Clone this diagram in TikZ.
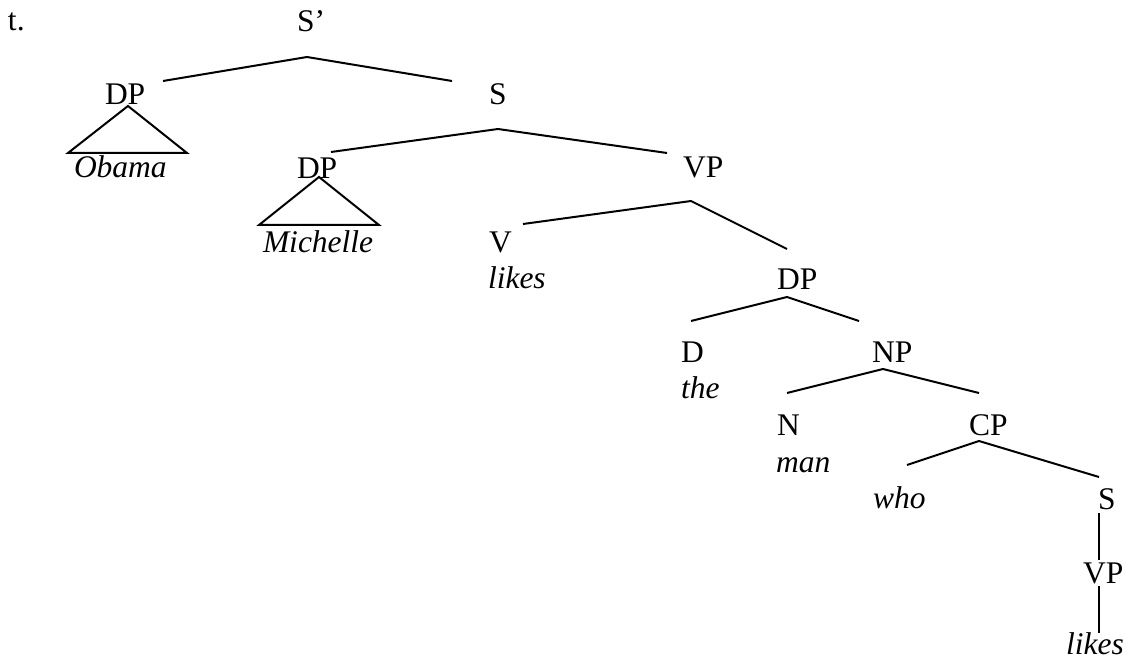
\documentclass[tikz,border=0pt]{standalone}
\usepackage{fontspec}
\setmainfont{Liberation Serif}
\tikzset{
  lbl/.style={anchor=base west, inner sep=0pt, outer sep=0pt,
    font=\fontsize{31.5}{36}\selectfont},
  word/.style={lbl, font=\fontsize{31.5}{36}\selectfont\itshape},
  branch/.style={line width=2pt, line join=miter},
}
\begin{document}
\begin{tikzpicture}[x=1pt, y=-1pt]
\useasboundingbox (0,0) rectangle (1126,660);

% labels
\node[lbl]  (ex)     at (8,31)     {t.};
\node[lbl]  (sbar)   at (297,32)   {S’};
\node[lbl]  (dpa)    at (105,105)  {DP};
\node[word] (obama)  at (74,178)   {Obama};
\node[lbl]  (sa)     at (489,105)  {S};
\node[lbl]  (dpb)    at (297,179)  {DP};
\node[word] (mich)   at (263,252)  {Michelle};
\node[lbl]  (vpa)    at (683,178)  {VP};
\node[lbl]  (v)      at (489,252)  {V};
\node[word] (likesa) at (488,288)  {likes};
\node[lbl]  (dpc)    at (777,289)  {DP};
\node[lbl]  (d)      at (681,362)  {D};
\node[lbl]  (np)     at (872,362)  {NP};
\node[word] (the)    at (681,398)  {the};
\node[lbl]  (n)      at (777,435)  {N};
\node[lbl]  (cp)     at (969,435)  {CP};
\node[word] (man)    at (776,472)  {man};
\node[word] (who)    at (873,508)  {who};
\node[lbl]  (sb)     at (1098,509) {S};
\node[lbl]  (vpb)    at (1083,583) {VP};
\node[word] (likesb) at (1066,654) {likes};

% branch points
\coordinate (sbarT) at (307,57);  \coordinate (sbarL) at (163,81);  \coordinate (sbarR) at (452,81);
\coordinate (triaT) at (128,106); \coordinate (triaL) at (68,153);  \coordinate (triaR) at (187,153);
\coordinate (saT)   at (498,129); \coordinate (saL)   at (331,152); \coordinate (saR)   at (667,153);
\coordinate (tribT) at (319,177); \coordinate (tribL) at (259,225); \coordinate (tribR) at (379,225);
\coordinate (vpaT)  at (691,201); \coordinate (vpaL)  at (523,224); \coordinate (vpaR)  at (787,249);
\coordinate (dpcT)  at (787,297); \coordinate (dpcL)  at (691,321); \coordinate (dpcR)  at (859,321);
\coordinate (npT)   at (883,369); \coordinate (npL)   at (787,393); \coordinate (npR)   at (979,393);
\coordinate (cpT)   at (979,441); \coordinate (cpL)   at (907,465); \coordinate (cpR)   at (1099,477);
\coordinate (sbT)   at (1099,513); \coordinate (sbB)  at (1099,560);
\coordinate (vpbT)  at (1099,586); \coordinate (vpbB) at (1099,633);

% branches
\draw[branch] (sbarL) -- (sbarT) -- (sbarR);
\draw[branch] (triaT) -- (triaL) -- (triaR) -- cycle;
\draw[branch] (saL) -- (saT) -- (saR);
\draw[branch] (tribT) -- (tribL) -- (tribR) -- cycle;
\draw[branch] (vpaL) -- (vpaT) -- (vpaR);
\draw[branch] (dpcL) -- (dpcT) -- (dpcR);
\draw[branch] (npL) -- (npT) -- (npR);
\draw[branch] (cpL) -- (cpT) -- (cpR);
\draw[branch] (sbT) -- (sbB);
\draw[branch] (vpbT) -- (vpbB);
\end{tikzpicture}
\end{document}
